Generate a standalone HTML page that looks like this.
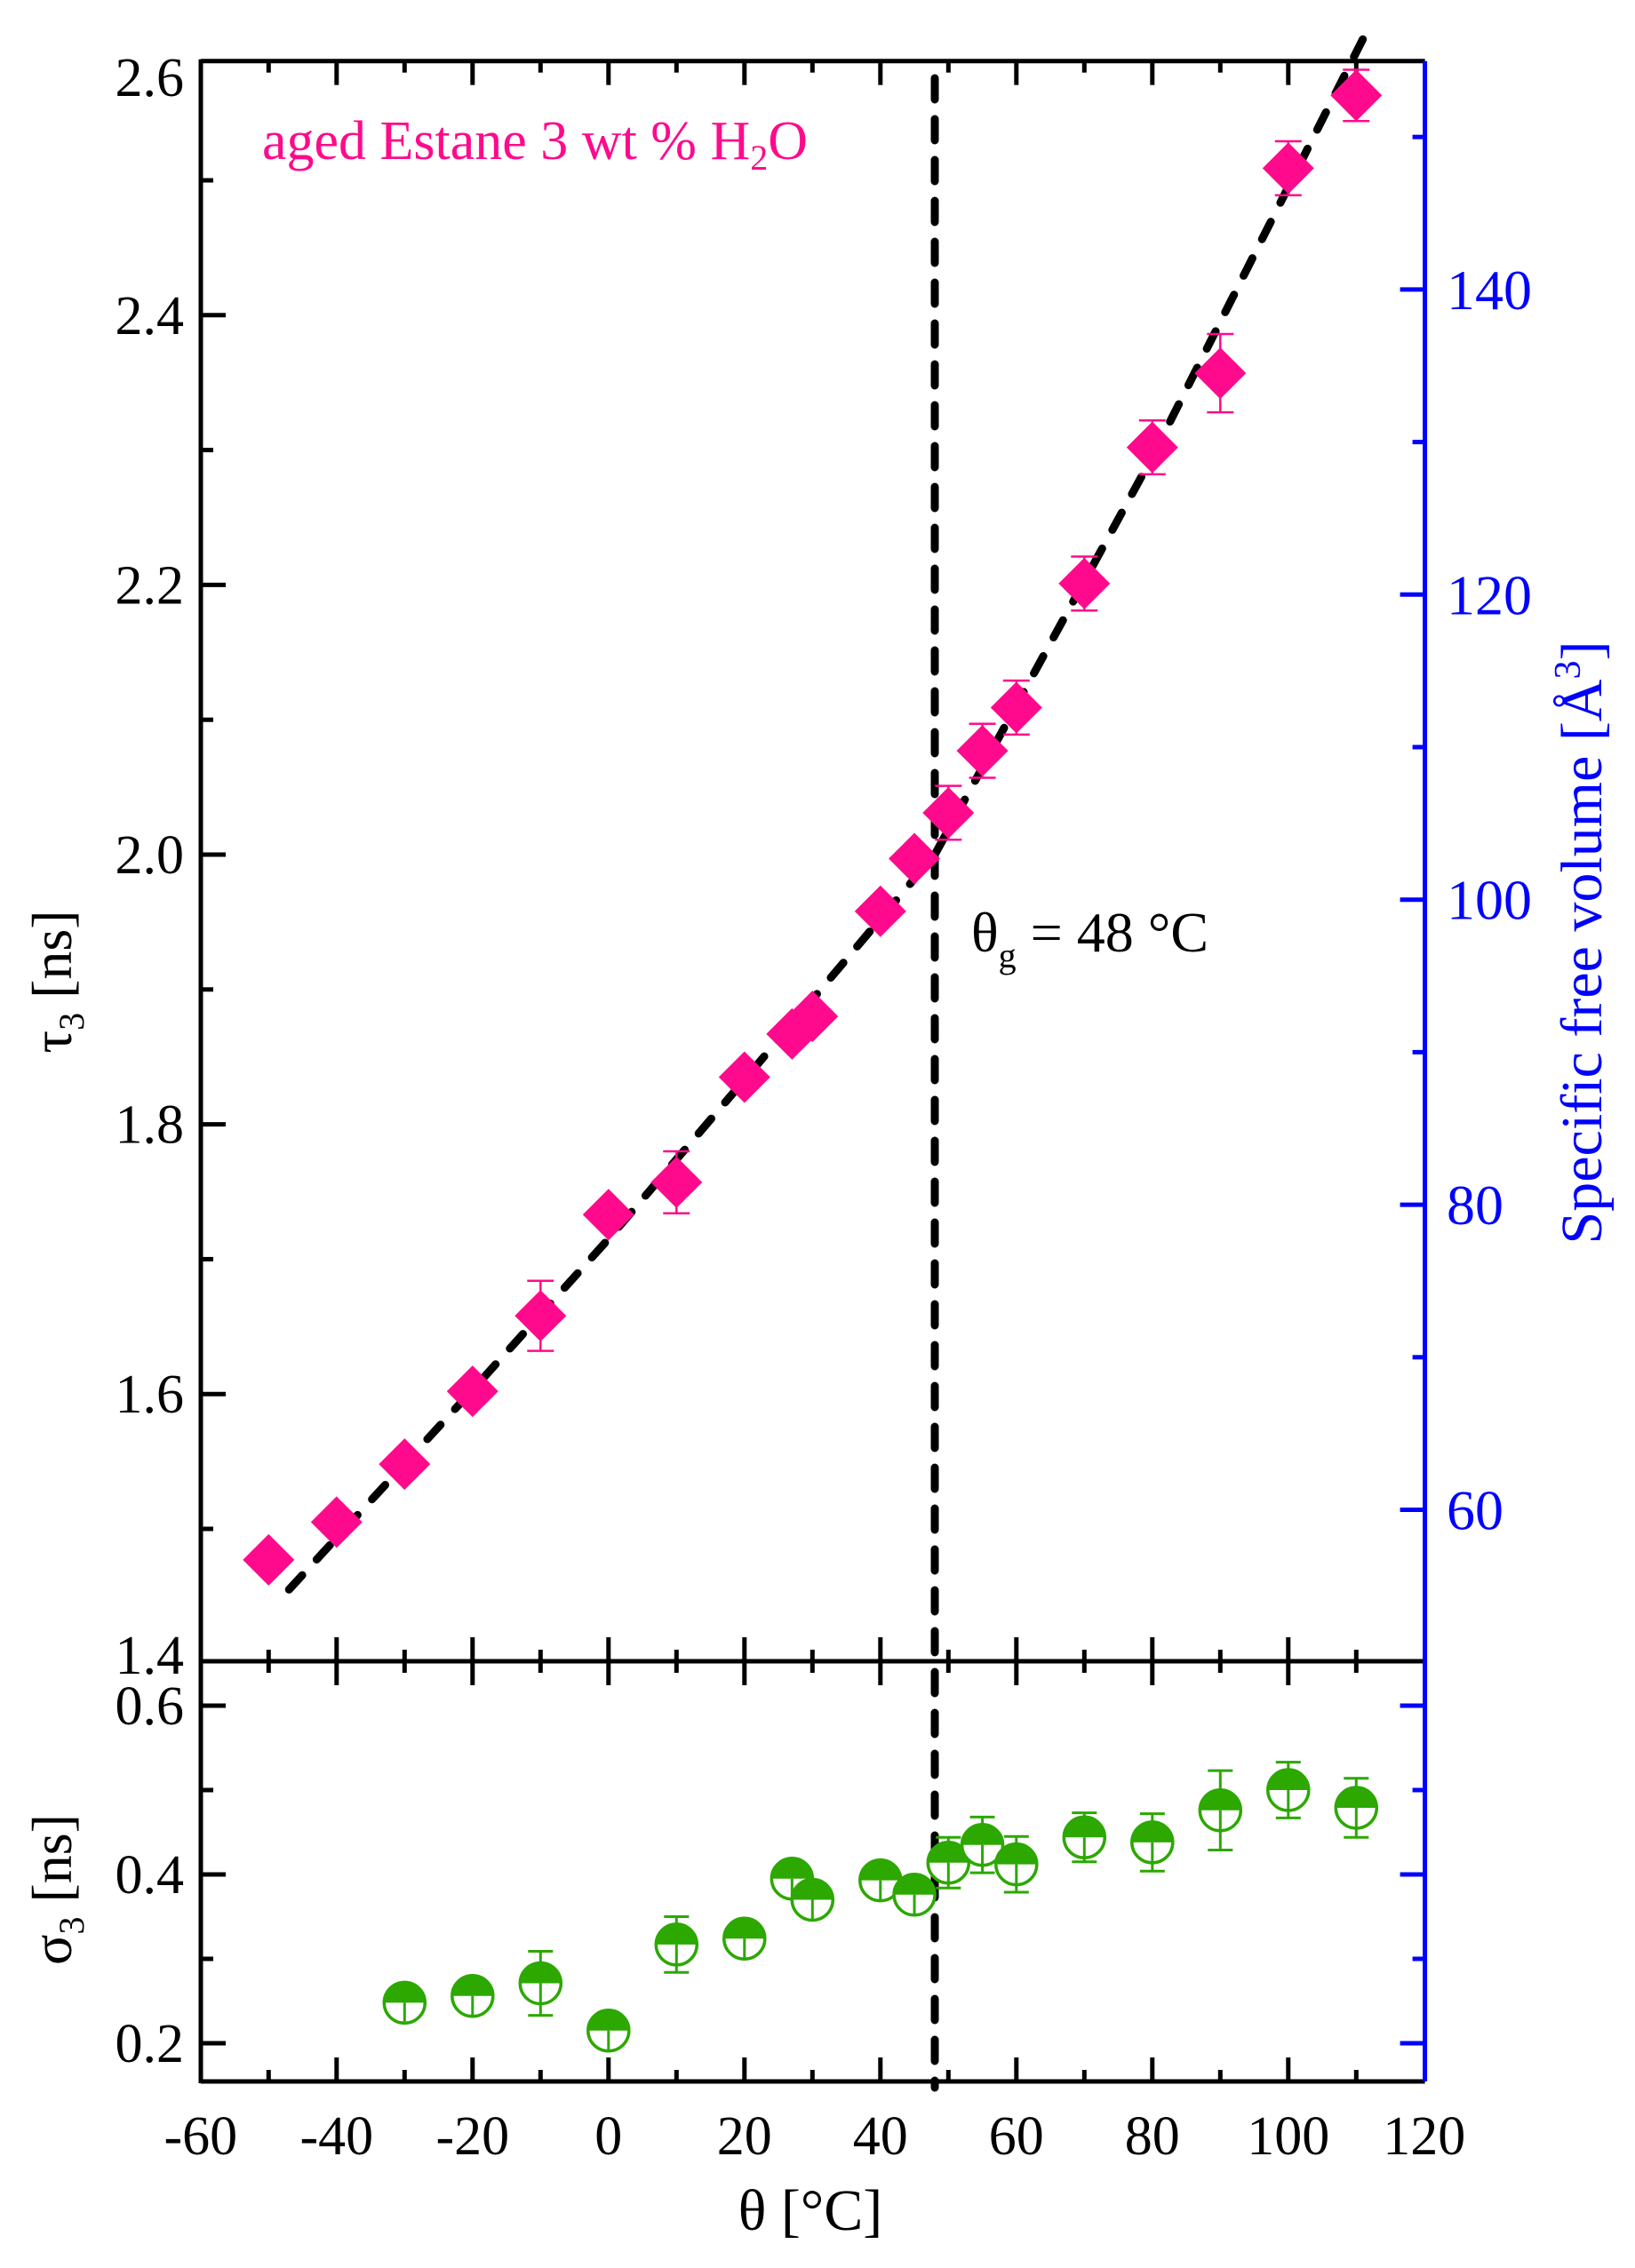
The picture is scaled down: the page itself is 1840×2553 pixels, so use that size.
<!DOCTYPE html>
<html><head><meta charset="utf-8"><style>
html,body{margin:0;padding:0;background:#fff;}
svg{display:block;}
svg text{font-family:"Liberation Serif","Times New Roman",serif;}
</style></head><body>
<svg id="chart" width="1840" height="2553" viewBox="0 0 1840 2553" xmlns="http://www.w3.org/2000/svg" font-family="Liberation Serif, serif">
<g id="axes"></g>
<g id="marks"></g>
<text x="295" y="179" font-size="62" font-family="Liberation Serif, serif" fill="#ff0a8c">aged Estane 3 wt % H<tspan font-size="40" dy="12">2</tspan><tspan dy="-12">O</tspan></text>
<text x="1093" y="1071" font-size="64" font-family="Liberation Serif, serif" fill="#000">θ<tspan font-size="40" dy="18">g</tspan><tspan dy="-18"> = 48 °C</tspan></text>
<text transform="translate(80,1105) rotate(-90)" text-anchor="middle" font-size="64" font-family="Liberation Serif, serif">τ<tspan font-size="40" dy="14">3</tspan><tspan dy="-14"> [ns]</tspan></text>
<text transform="translate(80,2127) rotate(-90)" text-anchor="middle" font-size="64" font-family="Liberation Serif, serif">σ<tspan font-size="40" dy="14">3</tspan><tspan dy="-14"> [ns]</tspan></text>
<text transform="translate(1802,1061) rotate(-90)" text-anchor="middle" font-size="66" font-family="Liberation Serif, serif" fill="#0000ff">Specific free volume [Å<tspan font-size="42" dy="-24">3</tspan><tspan dy="24">]</tspan></text>
<text x="912" y="2510" text-anchor="middle" font-size="66" font-family="Liberation Serif, serif">θ [°C]</text>
</svg>
<script>
// data
const tauX = [-50,-40,-30,-20,-10,0,10,20,27,30,40,45,50,55,60,70,80,90,100,110];
const tauY = [1.477,1.505,1.548,1.602,1.658,1.733,1.757,1.835,1.867,1.880,1.958,1.997,2.031,2.077,2.109,2.201,2.302,2.357,2.509,2.563];
const tauErr = [0,0,0,0,0.026,0,0.023,0,0,0,0,0,0.02,0.02,0.02,0.02,0.02,0.029,0.02,0.019];
const sigX = [-30,-20,-10,0,10,20,27,30,40,45,50,55,60,70,80,90,100,110];
const sigY = [0.248,0.256,0.271,0.215,0.317,0.324,0.395,0.370,0.393,0.376,0.414,0.435,0.412,0.444,0.438,0.476,0.500,0.479];
const sigErr = [0,0,0.038,0,0.033,0,0,0,0,0,0.030,0.033,0.033,0.029,0.034,0.047,0.033,0.035];
const fitX = [-47,-20,0,20,48,80,111];
const fitY = [1.455,1.603,1.715,1.833,2.0,2.295,2.605];
const tg = [48];
const xTicks = [-60,-40,-20,0,20,40,60,80,100,120];
const tauTicks = [1.4,1.6,1.8,2.0,2.2,2.4,2.6];
const sigTicks = [0.2,0.4,0.6];
const volTicks = [60,80,100,120,140];

const X = v => 684.8 + v*7.65;
const YT = v => 962 - (v-2.0)*1518;
const YS = v => 2300 - (v-0.2)*950;
const YV = v => 1012.7 - (v-100)*17.17;
const L=226, R=1603.6, TOP=68.7, MID=1870, BOT=2343;
const NS='http://www.w3.org/2000/svg';
const FF='Liberation Serif, serif';
const axes=document.getElementById('axes'), marks=document.getElementById('marks');
function mk(tag,attrs,parent){const e=document.createElementNS(NS,tag);for(const k in attrs)e.setAttribute(k,attrs[k]);parent.appendChild(e);return e;}
function line(x1,y1,x2,y2,stroke,w,parent){return mk('line',{x1,y1,x2,y2,stroke,'stroke-width':w},parent);}
const AW=5;
let e;
e=line(L,TOP,R,TOP,'#000',AW,axes);


e=line(L,TOP-2,L,BOT+2,'#000',AW,axes);


e=line(L,MID,R,MID,'#000',AW,axes);


e=line(L,BOT,R,BOT,'#000',AW,axes);


e=line(R,TOP,R,BOT,'#0000ff',5,axes);



for(let v=-60;v<=120;v+=10){
  const maj = v%20===0, x=X(v);
  if(v===-60||v===120) continue;
  line(x,TOP,x,TOP+(maj?27:13),'#000',AW,axes);
  line(x,MID-(maj?27:13),x,MID+(maj?27:13),'#000',AW,axes);
  line(x,BOT,x,BOT-(maj?27:13),'#000',AW,axes);
}
xTicks.forEach(v=>{
  const t=mk('text',{x:X(v),y:2425,'text-anchor':'middle','font-size':62,'font-family':FF},axes);
  t.textContent=String(v);
  
  
});
for(let i=15;i<=25;i++){
  const v=i/10, y=YT(v); if(y<TOP+5||y>MID-5) continue;
  line(L,y,L+(i%2===0?28:14),y,'#000',AW,axes);
}
tauTicks.forEach(v=>{
  let y=YT(v)+21; if(v===2.6) y=108; if(v===1.4) y=1884;
  const t=mk('text',{x:207,y:y,'text-anchor':'end','font-size':62,'font-family':FF},axes);
  t.textContent=v.toFixed(1);
  
  
});
for(let i=2;i<=6;i++){
  const y=YS(i/10), maj=i%2===0;
  line(L,y,L+(maj?28:14),y,'#000',AW,axes);
  line(R,y,R-(maj?28:14),y,'#0000ff',5,axes);
}
sigTicks.forEach(v=>{
  const t=mk('text',{x:207,y:YS(v)+21,'text-anchor':'end','font-size':62,'font-family':FF},axes);
  t.textContent=v.toFixed(1);
  
  
});
for(let v=60;v<=150;v+=10){
  const maj=v%20===0;
  line(R,YV(v),R-(maj?28:14),YV(v),'#0000ff',5,axes);
}
volTicks.forEach(v=>{
  const t=mk('text',{x:1628,y:YV(v)+22,'font-size':64,fill:'#0000ff','font-family':FF},axes);
  t.textContent=String(v);
  
  
});

const fit=mk('polyline',{points:fitX.map((v,i)=>X(v)+','+YT(fitY[i])).join(' '),fill:'none',stroke:'#000','stroke-width':9,'stroke-dasharray':'22 24','stroke-linecap':'round','stroke-linejoin':'round'},marks);


const tgl=line(X(tg[0]),88,X(tg[0]),2350,'#000',9,marks);
tgl.setAttribute('stroke-dasharray','24 22');
tgl.setAttribute('stroke-linecap','round');



const PINK='#ff0a8c';
tauX.forEach((v,i)=>{
  const x=X(v), y=YT(tauY[i]);
  const g=mk('g',{},marks);
  
  
  if(tauErr[i]>0){
    const y1=YT(tauY[i]+tauErr[i]), y2=YT(tauY[i]-tauErr[i]);
    line(x,y1,x,y2,PINK,2.5,g); line(x-15,y1,x+15,y1,PINK,2.5,g); line(x-15,y2,x+15,y2,PINK,2.5,g);
  }
  mk('polygon',{points:`${x},${y-29} ${x+29},${y} ${x},${y+29} ${x-29},${y}`,fill:PINK},g);
});
const GREEN='#2ca800';
sigX.forEach((v,i)=>{
  const x=X(v), y=YS(sigY[i]), r=23;
  const g=mk('g',{},marks);
  
  
  if(sigErr[i]>0){
    const y1=YS(sigY[i]+sigErr[i]), y2=YS(sigY[i]-sigErr[i]);
    line(x,y1,x,y2,GREEN,3,g); line(x-14,y1,x+14,y1,GREEN,3,g); line(x-14,y2,x+14,y2,GREEN,3,g);
  }
  mk('circle',{cx:x,cy:y,r:r,fill:'#fff',stroke:GREEN,'stroke-width':3.5},g);
  mk('path',{d:`M${x-r},${y} A${r},${r} 0 0 1 ${x+r},${y} Z`,fill:GREEN},g);
  line(x,y,x,y+r,GREEN,3,g);
});
</script>
</body></html>
